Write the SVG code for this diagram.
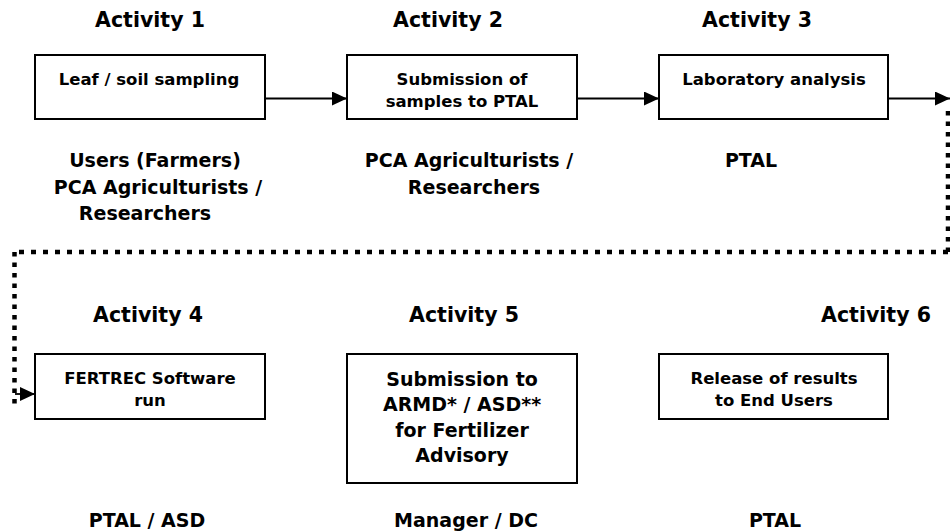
<svg xmlns="http://www.w3.org/2000/svg" width="950" height="531" viewBox="0 0 950 531">
<style>
text{font-family:"DejaVu Sans","Liberation Sans",sans-serif;font-weight:bold;fill:#000;text-anchor:middle}
.h{font-size:20.5px}
.b{font-size:16.5px}
.b5{font-size:19px}
.r{font-size:19px}
rect{fill:#fff;stroke:#000;stroke-width:2}
.ln{stroke:#000;stroke-width:1.8;fill:none}
.dot{stroke:#000;stroke-width:4.5;fill:none}
</style>
<defs>
<marker id="ah" viewBox="0 0 15 14" refX="15" refY="7" markerWidth="15" markerHeight="14" markerUnits="userSpaceOnUse" orient="auto">
<path d="M0,0 L15,7 L0,14 Z" fill="#000"/>
</marker>
</defs>
<rect width="950" height="531" style="fill:#fff;stroke:none"/>
<g id="connectors">
<line class="ln" x1="265" y1="98.5" x2="347" y2="98.5" marker-end="url(#ah)"/>
<line class="ln" x1="577" y1="98.5" x2="659" y2="98.5" marker-end="url(#ah)"/>
<line class="ln" x1="888" y1="98.5" x2="950" y2="98.5" marker-end="url(#ah)"/>
<polyline class="dot" points="948,111 948,252" stroke-dasharray="4.5 6"/>
<polyline class="dot" points="948,252 14.5,252" stroke-dasharray="5 7"/>
<polyline class="dot" points="14.5,252 14.5,404" stroke-dasharray="4.5 6"/>
<line class="ln" x1="15" y1="394" x2="35" y2="394" marker-end="url(#ah)"/>
</g>
<g id="act1">
<text class="h" x="150" y="27">Activity 1</text>
<rect x="35" y="55" width="230" height="64"/>
<text class="b" x="149" y="85">Leaf / soil sampling</text>
<text class="r" x="155" y="167">Users (Farmers)</text>
<text class="r" x="158" y="194">PCA Agriculturists /</text>
<text class="r" x="145" y="220">Researchers</text>
</g>
<g id="act2">
<text class="h" x="448" y="27">Activity 2</text>
<rect x="347" y="55" width="230" height="64"/>
<text class="b" x="462" y="85">Submission of</text>
<text class="b" x="462" y="107">samples to PTAL</text>
<text class="r" x="469" y="167">PCA Agriculturists /</text>
<text class="r" x="474" y="194">Researchers</text>
</g>
<g id="act3">
<text class="h" x="757" y="27">Activity 3</text>
<rect x="659" y="55" width="229" height="64"/>
<text class="b" x="774" y="85">Laboratory analysis</text>
<text class="r" x="751" y="167">PTAL</text>
</g>
<g id="act4">
<text class="h" x="148" y="322">Activity 4</text>
<rect x="35" y="354" width="230" height="65"/>
<text class="b" x="150" y="384">FERTREC Software</text>
<text class="b" x="150" y="406">run</text>
<text class="r" x="147" y="527">PTAL / ASD</text>
</g>
<g id="act5">
<text class="h" x="464" y="322">Activity 5</text>
<rect x="347" y="354" width="230" height="129"/>
<text class="b5" x="462" y="386">Submission to</text>
<text class="b5" x="462" y="411">ARMD* / ASD**</text>
<text class="b5" x="462" y="437">for Fertilizer</text>
<text class="b5" x="462" y="462">Advisory</text>
<text class="r" x="466" y="527">Manager / DC</text>
</g>
<g id="act6">
<text class="h" x="876" y="322">Activity 6</text>
<rect x="659" y="354" width="229" height="65"/>
<text class="b" x="774" y="384">Release of results</text>
<text class="b" x="774" y="406">to End Users</text>
<text class="r" x="775" y="527">PTAL</text>
</g>
</svg>
